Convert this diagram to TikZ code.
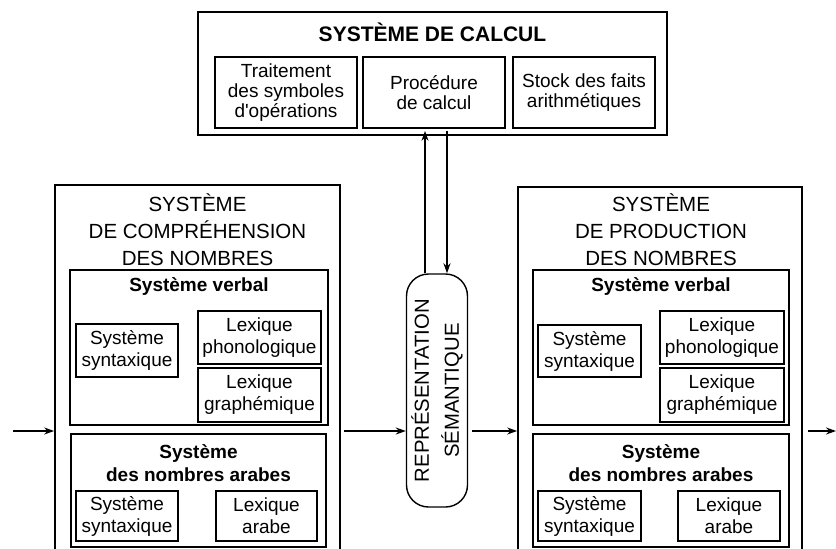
\documentclass[tikz,border=0pt]{standalone}
\usepackage{fontspec}
\setmainfont{Liberation Sans}
\usetikzlibrary{arrows.meta}

\begin{document}
\begin{tikzpicture}[x=1pt,y=1pt,yscale=-1,xscale=1,
  bigbox/.style={draw, line width=1.7pt, inner sep=0pt},
  groupbox/.style={draw, line width=1.4pt, inner sep=0pt},
  modbox/.style={draw, line width=1.3pt, inner sep=0pt, align=center, font=\fontsize{19}{22}\selectfont},
  calcbox/.style={modbox, font=\fontsize{19}{20}\selectfont},
  bigtitle/.style={align=center, inner sep=0pt, font=\fontsize{20.5}{27}\selectfont},
  grouptitle/.style={align=center, inner sep=0pt, font=\bfseries\fontsize{19}{23}\selectfont},
  arr/.style={line width=1.4pt, -{Stealth[length=10pt,width=7pt]}}]
\useasboundingbox (0,0) rectangle (836,549);
\clip (0,0) rectangle (836,549);

%Shape: Systeme de calcul
\node[bigbox, minimum width=469pt, minimum height=123pt] (calcul) at (432.5,73.5) {};
\node[grouptitle, font=\bfseries\fontsize{21}{23}\selectfont] (calcultitle) at (432.5,32) {SYSTÈME DE CALCUL};
\node[calcbox, minimum width=142pt, minimum height=71pt] (traitement) at (286,92.5) {Traitement\\des symboles\\d\textquotesingle opérations};
\node[calcbox, minimum width=142pt, minimum height=71pt] (procedure) at (434,92.5) {Procédure\\de calcul};
\node[calcbox, minimum width=142pt, minimum height=71pt] (stock) at (584,92.5) {Stock des faits\\arithmétiques};

%Shape: Representation semantique
\node[draw, line width=1.4pt, rounded corners=22pt, rotate=90, minimum width=233pt, minimum height=61pt,
  align=center, inner sep=0pt, font=\fontsize{20.3}{30}\selectfont] (sem) at (437,390.5) {REPRÉSENTATION\\SÉMANTIQUE};

%Shape: Systeme de comprehension
\node[bigbox, minimum width=285pt, minimum height=375pt] (compr) at (197.5,372.5) {};
\node[bigtitle] (comprtitle) at (197.5,230) {SYSTÈME\\DE COMPRÉHENSION\\DES NOMBRES};
\node[groupbox, minimum width=258pt, minimum height=155pt] (verbalC) at (199,347.5) {};
\node[grouptitle] (verbalCtitle) at (199,287) {Système verbal};
\node[modbox, minimum width=102pt, minimum height=53pt] (synC) at (127,350.5) {Système\\syntaxique};
\node[modbox, minimum width=123pt, minimum height=53pt] (phonC) at (259.5,337.5) {Lexique\\phonologique};
\node[modbox, minimum width=123pt, minimum height=54pt] (graphC) at (259.5,395) {Lexique\\graphémique};
\node[groupbox, minimum width=255pt, minimum height=113pt] (arabC) at (198.5,490.5) {};
\node[grouptitle] (arabCtitle) at (198.5,463.5) {Système\\des nombres arabes};
\node[modbox, minimum width=102pt, minimum height=50pt] (asynC) at (127,516) {Système\\syntaxique};
\node[modbox, minimum width=101pt, minimum height=50pt] (lexarC) at (266.5,516) {Lexique\\arabe};

%Shape: Systeme de production
\node[bigbox, minimum width=284pt, minimum height=373pt] (prod) at (660,373.5) {};
\node[bigtitle] (prodtitle) at (661,230) {SYSTÈME\\DE PRODUCTION\\DES NOMBRES};
\node[groupbox, minimum width=256pt, minimum height=155pt] (verbalP) at (661,347.5) {};
\node[grouptitle] (verbalPtitle) at (661,287) {Système verbal};
\node[modbox, minimum width=103pt, minimum height=52pt] (synP) at (589.5,351) {Système\\syntaxique};
\node[modbox, minimum width=124pt, minimum height=53pt] (phonP) at (722,337.5) {Lexique\\phonologique};
\node[modbox, minimum width=124pt, minimum height=54pt] (graphP) at (722,395) {Lexique\\graphémique};
\node[groupbox, minimum width=256pt, minimum height=113pt] (arabP) at (661,490.5) {};
\node[grouptitle] (arabPtitle) at (661,463.5) {Système\\des nombres arabes};
\node[modbox, minimum width=103pt, minimum height=50pt] (asynP) at (589.5,516) {Système\\syntaxique};
\node[modbox, minimum width=102pt, minimum height=50pt] (lexarP) at (729,516) {Lexique\\arabe};

%Straight Lines
\coordinate (in) at (13,431);
\coordinate (out) at (836,431);
\draw[arr] (in) -- (in -| compr.west);
\draw[arr, shorten <=3pt] (in -| compr.east) -- (in -| sem.north);
\draw[arr, shorten <=4pt] (in -| sem.south) -- (in -| prod.west);
\draw[arr, shorten <=5pt] (in -| prod.east) -- (out);
\draw[arr] ([xshift=-12pt]sem.east) -- ([xshift=-7.5pt,yshift=-5pt]calcul.south);
\draw[arr] ([xshift=14.5pt,yshift=-5pt]calcul.south) -- ([xshift=10pt]sem.east);

\end{tikzpicture}
\end{document}
